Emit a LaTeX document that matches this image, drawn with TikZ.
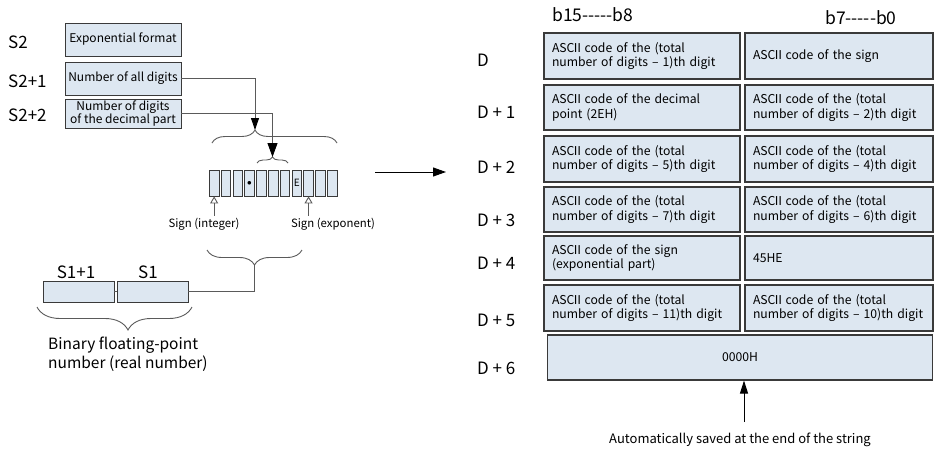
\documentclass[tikz,border=0pt]{standalone}
\usepackage{fontspec}
\setmainfont{Noto Sans CJK SC}
\usetikzlibrary{arrows.meta,decorations.pathreplacing}
\definecolor{boxfill}{HTML}{DDE7F1}
\definecolor{boxline}{HTML}{3A3A3A}
\definecolor{conn}{HTML}{5A5A5A}
\newcommand\romII{\kern-0.25em Ⅱ\kern-0.25em}
\begin{document}
\begin{tikzpicture}[x=1pt,y=-1pt,
  lbox/.style={draw=boxline, fill=boxfill, line width=0.9pt, inner sep=0pt, align=center,
     font=\fontsize{12}{13.5}\selectfont},
  rbox/.style={draw=boxline, fill=boxfill, line width=1.1pt, inner xsep=8pt, inner ysep=0pt,
     align=left, font=\fontsize{12.2}{14.5}\selectfont},
  cellbox/.style={draw=boxline, fill=boxfill, line width=0.8pt, minimum width=9.7pt,
     minimum height=26pt, inner sep=0pt, font=\fontsize{8}{9}\selectfont},
  biglabel/.style={font=\fontsize{17}{20}\selectfont, inner sep=0pt},
  midlabel/.style={font=\fontsize{11.4}{13}\selectfont, inner sep=0pt},
  conline/.style={draw=conn, line width=0.9pt},
  bigtip/.style={-{Triangle[length=12pt,width=8pt,color=black]}},
  opentip/.style={-{Triangle[open,length=7pt,width=8pt]}},
  bracestyle/.style={draw=conn, line width=0.9pt, decorate}
]
\useasboundingbox (0,0) rectangle (934,450);

% ---------- left: S2 area ----------
\node[biglabel, anchor=west] (ls2) at (8,42) {S2};
\node[biglabel, anchor=west] (ls21) at (8,81) {S2+1};
\node[biglabel, anchor=west] (ls22) at (8,115) {S2+2};

\node[lbox, minimum width=116pt, minimum height=33pt] (b1) at (123,39.5) {Exponential format};
\node[lbox, minimum width=116pt, minimum height=33pt] (b2) at (123,78.5) {Number of all digits};
\node[lbox, minimum width=116pt, minimum height=29pt] (b3) at (123,113.5) {Number of digits\\of the decimal part};

% cells
\foreach \i in {0,...,10} {
  \node[cellbox] (c\i) at ({214.15+\i*11.8},183) {};
}
\node[font=\fontsize{9}{9}\selectfont, inner sep=0pt] (dot) at (c3) {$\bullet$};
\node[font=\fontsize{10}{10}\selectfont, inner sep=0pt] (eletter) at (c7) {E};

% braces
\draw[bracestyle, decoration={brace, amplitude=13pt, aspect=0.344}] (212,143) -- (337,143);
\coordinate (bt) at (255,130);
\draw[bracestyle, decoration={brace, amplitude=6pt}] (257,163) -- (288,163);
\coordinate (sbt) at (272.5,157);
\draw[bracestyle, decoration={brace, mirror, amplitude=15pt}] (207,250) -- (302,250);
\coordinate (lbt) at (254.5,265);

% arrows from S2+1 and S2+2
\draw[conline, bigtip] (b2.east) -| (bt);
\draw[conline, -{Triangle[length=14pt,width=10pt,color=black]}] (b3.east) -| (sbt);

% sign labels
\node[midlabel] (si) at (204,224) {Sign (integer)};
\node[midlabel] (se) at (333,224) {Sign (exponent)};
\draw[conline, opentip] (c0.south |- si.north) ++(0,-2) coordinate (siup) -- (c0.south);
\draw[conline, opentip] (c8.south |- se.north) ++(0,-2) coordinate (seup) -- (c8.south);

% S1 boxes
\node[biglabel] (ls11) at (76,272) {S1+1};
\node[biglabel] (ls1) at (148,272) {S1};
\node[lbox, minimum width=71pt, minimum height=21pt] (s11) at (78.5,291.5) {};
\node[lbox, minimum width=71pt, minimum height=21pt] (s1) at (152.5,291.5) {};
\draw[conline] (s11.east) -- (s1.west);
\draw[conline] (lbt) |- (s1.east);

\draw[bracestyle, decoration={brace, mirror, amplitude=23pt, aspect=0.587}] (37,307) -- (192,307);
\node[align=left, anchor=north west, inner sep=0pt, font=\fontsize{15.5}{19}\selectfont] (bin) at (48,337) {Binary floating-point\\number (real number)};

% middle arrow
\coordinate (ma) at (375,172);
\coordinate (mb) at (446,172);
\draw[line width=1pt, -{Triangle[length=13pt,width=9pt]}] (ma) -- (mb);

% ---------- right: D table ----------
\node[anchor=west, inner sep=0pt, font=\fontsize{17.5}{20}\selectfont] (h1) at (552,15) {b15{-}{-}{-}{-}{-}b8};
\node[anchor=west, inner sep=0pt, font=\fontsize{17.5}{20}\selectfont] (h2) at (825,18) {b7{-}{-}{-}{-}{-}b0};

\node[biglabel, anchor=west] (d0) at (477,60) {D};
\node[biglabel, anchor=west] (d1) at (477,112) {D + 1};
\node[biglabel, anchor=west] (d2) at (477,167) {D + 2};
\node[biglabel, anchor=west] (d3) at (477,220) {D + 3};
\node[biglabel, anchor=west] (d4) at (477,263) {D + 4};
\node[biglabel, anchor=west] (d5) at (477,320) {D + 5};
\node[biglabel, anchor=west] (d6) at (477,368) {D + 6};

\node[rbox, text width=180pt, minimum height=46pt] (l0) at (642,56) {ASC\romII{} code of the (total\\number of digits – 1)th digit};
\node[rbox, text width=172pt, minimum height=46pt] (r0) at (839,56) {ASC\romII{} code of the sign};
\node[rbox, text width=180pt, minimum height=45pt] (l1) at (642,107.5) {ASC\romII{} code of the decimal\\point (2EH)};
\node[rbox, text width=172pt, minimum height=45pt] (r1) at (839,107.5) {ASC\romII{} code of the (total\\number of digits – 2)th digit};
\node[rbox, text width=180pt, minimum height=46pt] (l2) at (642,159) {ASC\romII{} code of the (total\\number of digits – 5)th digit};
\node[rbox, text width=172pt, minimum height=46pt] (r2) at (839,159) {ASC\romII{} code of the (total\\number of digits – 4)th digit};
\node[rbox, text width=180pt, minimum height=45pt] (l3) at (642,209.5) {ASC\romII{} code of the (total\\number of digits – 7)th digit};
\node[rbox, text width=172pt, minimum height=45pt] (r3) at (839,209.5) {ASC\romII{} code of the (total\\number of digits – 6)th digit};
\node[rbox, text width=180pt, minimum height=44pt] (l4) at (642,258) {ASC\romII{} code of the sign\\(exponential part)};
\node[rbox, text width=172pt, minimum height=44pt] (r4) at (839,258) {45HE};
\node[rbox, text width=180pt, minimum height=46pt] (l5) at (642,308) {ASC\romII{} code of the (total\\number of digits – 11)th digit};
\node[rbox, text width=172pt, minimum height=46pt] (r5) at (839,308) {ASC\romII{} code of the (total\\number of digits – 10)th digit};
\node[rbox, align=center, text width=369pt, minimum height=45pt] (z6) at (740,357.5) {0000H};

\node[font=\fontsize{13}{15}\selectfont, inner sep=0pt] (auto) at (740,440) {Automatically saved at the end of the string};
\coordinate (ab) at (744,422);
\draw[line width=1pt, -{Triangle[length=13pt,width=8pt]}] (ab) -- (ab |- z6.south);
\end{tikzpicture}
\end{document}
